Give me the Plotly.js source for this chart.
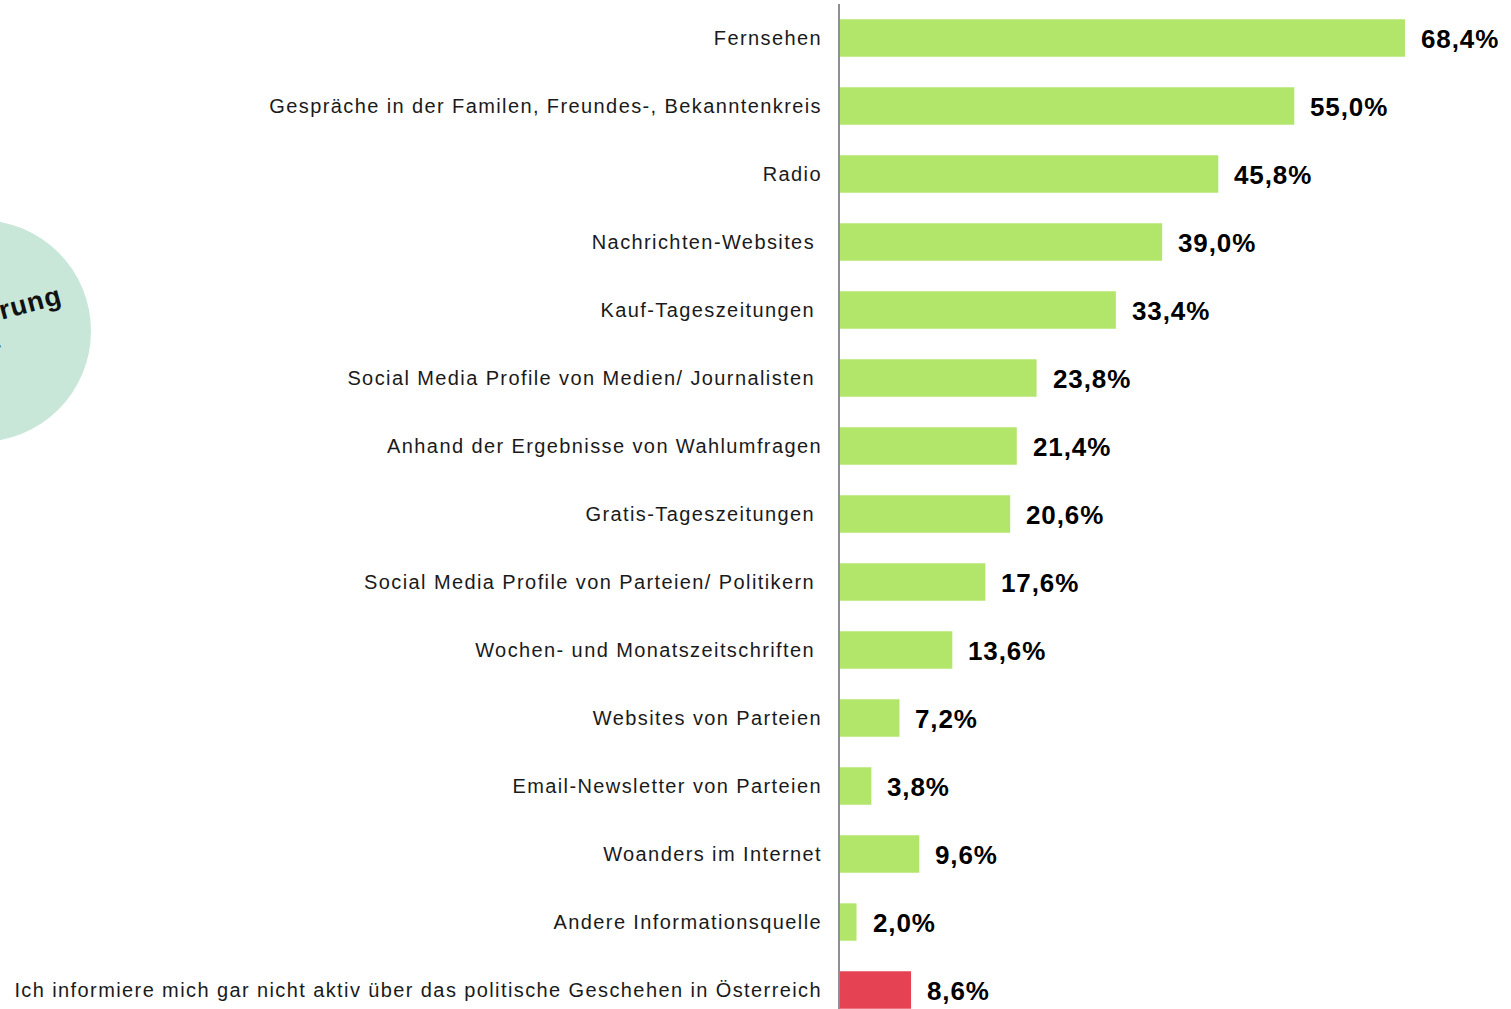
<!DOCTYPE html>
<html>
<head>
<meta charset="utf-8">
<script src="https://cdn.plot.ly/plotly-3.0.1.min.js"></script>
<style>
  html, body { margin: 0; padding: 0; background: #ffffff; }
  #chart { width: 1511px; height: 1009px; }
  .ytick text { letter-spacing: 1.4px; }
  .annotation-text { letter-spacing: 0.9px; }
</style>
</head>
<body>
<div id="chart"></div>
<script>
// ---- data ----
const categories = [
  "Fernsehen",
  "Gespräche in der Familen, Freundes-, Bekanntenkreis",
  "Radio",
  "Nachrichten-Websites\u00a0",
  "Kauf-Tageszeitungen\u00a0",
  "Social Media Profile von Medien/ Journalisten\u00a0",
  "Anhand der Ergebnisse von Wahlumfragen",
  "Gratis-Tageszeitungen\u00a0",
  "Social Media Profile von Parteien/ Politikern\u00a0",
  "Wochen- und Monatszeitschriften\u00a0",
  "Websites von Parteien",
  "Email-Newsletter von Parteien",
  "Woanders im Internet",
  "Andere Informationsquelle",
  "Ich informiere mich gar nicht aktiv über das politische Geschehen in Österreich"
];
const values = [68.4, 55.0, 45.8, 39.0, 33.4, 23.8, 21.4, 20.6, 17.6, 13.6, 7.2, 3.8, 9.6, 2.0, 8.6];
const isNone = [false, false, false, false, false, false, false, false, false, false, false, false, false, false, true];
const circleLines = ["Orientierung", "Zeitpunkt"];

// ---- styles ----
const GREEN = "#b2e66b";
const RED = "#e54353";
const W = 1511, H = 1009;
const plotLeft = 840, plotTop = 4;
const plotW = W - plotLeft, plotH = H - plotTop;
const pxPerUnit = 8.26;
const rowPx = 68;

const fmt = v => v.toFixed(1).replace('.', ',') + '%';

const trace = {
  type: 'bar',
  orientation: 'h',
  y: categories,
  x: values,
  marker: { color: isNone.map(n => n ? RED : GREEN), line: { width: 0 } },
  width: 0.55,
  hoverinfo: 'none'
};

const annotations = categories.map((c, i) => ({
  x: values[i], y: c, xref: 'x', yref: 'y',
  text: fmt(values[i]),
  showarrow: false, xanchor: 'left', yanchor: 'middle',
  xshift: 14, yshift: -1,
  font: { family: 'Liberation Sans, Arial, sans-serif', size: 26, color: '#000000', weight: 'bold' }
}));

// paper coordinate helpers for decoration outside plot
const px2paperX = p => (p - plotLeft) / plotW;
const px2paperY = p => (H - p) / plotH;

const circleTextPos = [[67, 317], [6, 355]];
circleLines.forEach((t, i) => annotations.push({
  xref: 'paper', yref: 'paper',
  x: px2paperX(circleTextPos[i][0]), y: px2paperY(circleTextPos[i][1]),
  xanchor: 'right', yanchor: 'middle',
  text: t, textangle: -15, showarrow: false,
  font: { family: 'Liberation Sans, Arial, sans-serif', size: 27, color: '#111111', weight: 'bold' }
}));

const cx = -20, cy = 331, r = 111;
const layout = {
  width: W, height: H,
  margin: { l: plotLeft, r: 0, t: plotTop, b: 0 },
  paper_bgcolor: '#ffffff', plot_bgcolor: '#ffffff',
  showlegend: false,
  bargap: 0.45,
  xaxis: {
    range: [0, plotW / pxPerUnit],
    showgrid: false, zeroline: false, showticklabels: false, showline: false, ticks: ''
  },
  yaxis: {
    type: 'category',
    categoryarray: categories,
    range: [plotH / rowPx - 0.5, -0.5],
    showgrid: false, zeroline: false,
    showline: true, linecolor: '#8b9097', linewidth: 2,
    ticks: '', ticklabelstandoff: 12,
    tickfont: { family: 'Liberation Sans, Arial, sans-serif', size: 20, color: '#1a1a1a' }
  },
  shapes: [{
    type: 'circle', xref: 'paper', yref: 'paper', layer: 'below',
    x0: px2paperX(cx - r), x1: px2paperX(cx + r),
    y0: px2paperY(cy + r), y1: px2paperY(cy - r),
    fillcolor: '#c8e7d9', line: { width: 0 }
  }],
  annotations: annotations
};

Plotly.newPlot('chart', [trace], layout, { displayModeBar: false, staticPlot: true });
</script>
</body>
</html>
